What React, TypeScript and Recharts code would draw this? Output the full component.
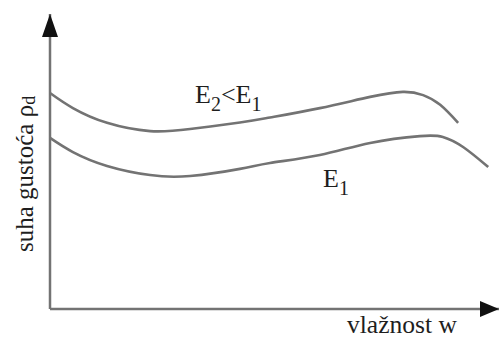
import React from "react";
import { LineChart, Line, XAxis, YAxis, ReferenceLine, ReferenceDot } from "recharts";

// moisture w (relative units) vs. dry density for two compaction energies
const upperW = [0, 5.1, 12.7, 22.3, 31.2, 42.3, 49, 60.1, 71.3, 78.6, 83.1, 86.9, 90.9];
const upperRho = [73.2, 68.1, 63.1, 60.3, 61, 63.2, 64.9, 68.1, 71.9, 73.6, 72.5, 69.2, 63.1];
const lowerW = [0, 5.1, 12.7, 22.3, 31.2, 42.3, 49, 60.1, 71.3, 82.4, 87.5, 92, 97.6];
const lowerRho = [58, 53.2, 48.5, 45.4, 45.1, 47.5, 49.5, 52.2, 56.3, 58.6, 58.3, 54.9, 48.1];

const upperLabel = { w: 32.3, rho: 69.8, main: "E", sub: "2", rest: "<E", sub2: "1" };
const lowerLabel = { w: 60.8, rho: 41.4, main: "E", sub: "1" };

const upperData = upperW.map((w, i) => ({ w, rho: upperRho[i] }));
const lowerData = lowerW.map((w, i) => ({ w, rho: lowerRho[i] }));

const FONT = "'Liberation Serif', 'Times New Roman', serif";
const GREY = "#737373";
const INK = "#1e1e1e";

const UpArrow = (p: any) => (
  <polygon points={`${p.cx},${p.cy} ${p.cx - 8},${p.cy + 23} ${p.cx + 8},${p.cy + 23}`} fill="#111" />
);
const RightArrow = (p: any) => (
  <polygon points={`${p.cx},${p.cy} ${p.cx - 19},${p.cy - 8} ${p.cx - 19},${p.cy + 8}`} fill="#111" />
);

const UpperText = (p: any) => (
  <text x={p.cx} y={p.cy} fontFamily={FONT} fontSize={26} fill={INK}>
    {upperLabel.main}
    <tspan fontSize={20} dy={8}>{upperLabel.sub}</tspan>
    <tspan dy={-8}>{upperLabel.rest}</tspan>
    <tspan fontSize={20} dy={8}>{upperLabel.sub2}</tspan>
  </text>
);
const LowerText = (p: any) => (
  <text x={p.cx} y={p.cy} fontFamily={FONT} fontSize={26} fill={INK}>
    {lowerLabel.main}
    <tspan fontSize={20} dy={8}>{lowerLabel.sub}</tspan>
  </text>
);

export default function App() {
  return (
    <div style={{ position: "absolute", left: 0, top: 0, width: 499, height: 339, background: "#fff" }}>
      <LineChart width={499} height={339} margin={{ top: 14, right: 0, left: 50, bottom: 30 }}>
        <XAxis dataKey="w" type="number" domain={[0, 100]} hide />
        <YAxis dataKey="rho" type="number" domain={[0, 100]} hide />
        <ReferenceLine x={0} stroke={GREY} strokeWidth={2.5} />
        <ReferenceLine y={0} stroke={GREY} strokeWidth={2.5} />
        <ReferenceDot x={0} y={100} ifOverflow="visible" shape={UpArrow} />
        <ReferenceDot x={100} y={0} ifOverflow="visible" shape={RightArrow} />
        <Line data={upperData} dataKey="rho" type="natural" stroke={GREY} strokeWidth={2.6} dot={false} isAnimationActive={false} />
        <Line data={lowerData} dataKey="rho" type="natural" stroke={GREY} strokeWidth={2.6} dot={false} isAnimationActive={false} />
        <ReferenceDot x={upperLabel.w} y={upperLabel.rho} ifOverflow="visible" shape={UpperText} />
        <ReferenceDot x={lowerLabel.w} y={lowerLabel.rho} ifOverflow="visible" shape={LowerText} />
        <text x={347} y={333} fontFamily={FONT} fontSize={25} fill={INK} textLength={110} lengthAdjust="spacingAndGlyphs">
          vlažnost w
        </text>
        <text transform="translate(33, 252) rotate(-90)" fontFamily={FONT} fontSize={25} fill={INK}>
          suha gustoća ρ
          <tspan fontSize={18} dy={2}>d</tspan>
        </text>
      </LineChart>
    </div>
  );
}
